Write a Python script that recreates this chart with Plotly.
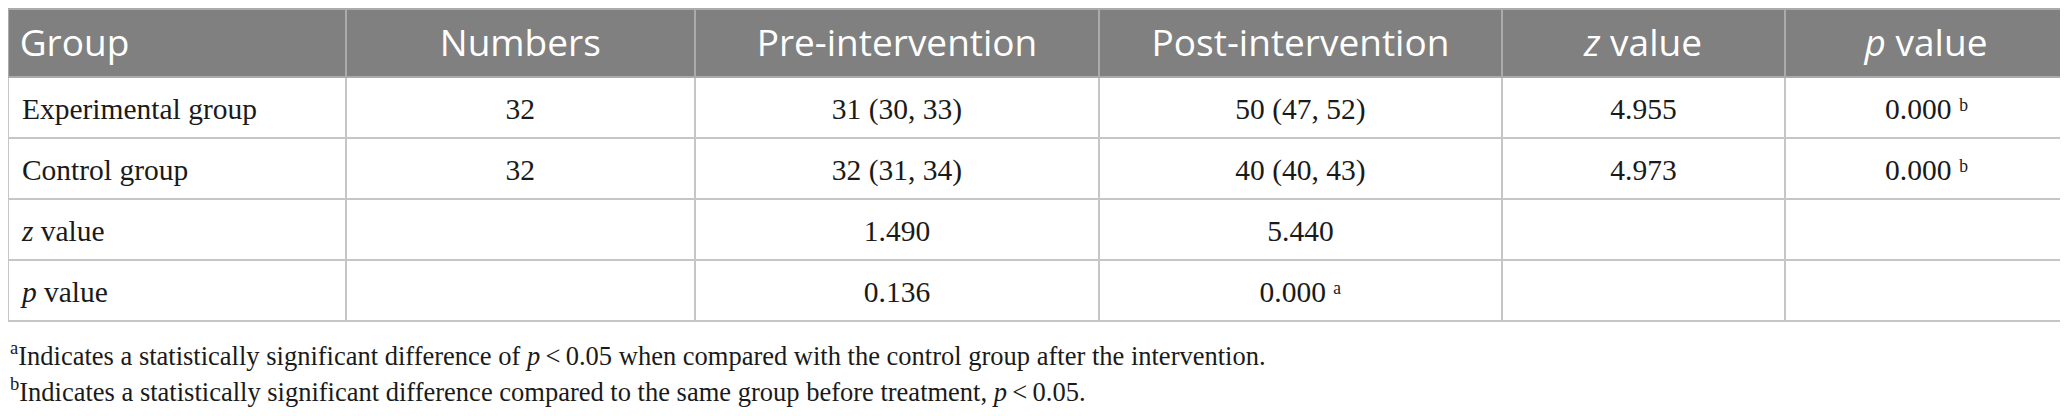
import plotly.graph_objects as go

# Table content
headers = ["Group", "Numbers", "Pre-intervention", "Post-intervention",
           "<i>z</i> value", "<i>p</i> value"]
groups = ["Experimental group", "Control group", "<i>z</i> value", "<i>p</i> value"]
numbers = ["32", "32", "", ""]
pre = ["31 (30, 33)", "32 (31, 34)", "1.490", "0.136"]
post = ["50 (47, 52)", "40 (40, 43)", "5.440", "0.000 \u1d43"]
z_vals = ["4.955", "4.973", "", ""]
p_vals = ["0.000 \u1d47", "0.000 \u1d47", "", ""]

footnotes = [
    "<sup>a</sup>Indicates a statistically significant difference of <i>p</i>\u2009&lt;\u20090.05 "
    "when compared with the control group after the intervention.",
    "<sup>b</sup>Indicates a statistically significant difference compared to the same group "
    "before treatment, <i>p</i>\u2009&lt;\u20090.05.",
]

W, H = 2068, 416
OFF = 8          # the html page puts an 8px body margin around the figure
TOP = 1          # table top inside the figure (px)
HEAD_H = 68      # header row height
ROW_H = 61       # body row height
col_w = [337.6, 349.4, 404, 403, 283, 283]
align = ["left", "center", "center", "center", "center", "center"]
x_dom = [0, (W - OFF) / W]

columns = [groups, numbers, pre, post, z_vals, p_vals]


def span(t):
    # wrap every entry so all cells are laid out the same way
    return "<span>" + t + "</span>"


head_txt = [span(("\u200a" if i == 0 else "") + h) for i, h in enumerate(headers)]
cell_txt = [[span(("\u2009" if j == 0 else "") + t) for t in col]
            for j, col in enumerate(columns)]

fig = go.Figure()

# grid: fills and rules
fig.add_trace(go.Table(
    columnwidth=col_w,
    header=dict(
        values=["" for _ in headers],
        fill_color="#808080",
        line=dict(color="#ababab", width=2),
        height=HEAD_H,
    ),
    cells=dict(
        values=[["" for _ in col] for col in columns],
        fill_color="white",
        line=dict(color="#c6c6c6", width=2),
        height=ROW_H,
    ),
    domain=dict(x=x_dom, y=[0, 1 - TOP / H]),
))

# text layer, nudged so the labels sit centred in their rows
HEAD_SHIFT = -1
BODY_SHIFT = 8
fig.add_trace(go.Table(
    columnwidth=col_w,
    header=dict(
        values=head_txt,
        align=align,
        fill_color="rgba(0,0,0,0)",
        line=dict(color="rgba(0,0,0,0)", width=0),
        font=dict(family="Open Sans", size=37, color="white"),
        height=HEAD_H + BODY_SHIFT - HEAD_SHIFT,
    ),
    cells=dict(
        values=cell_txt,
        align=align,
        fill_color="rgba(0,0,0,0)",
        line=dict(color="rgba(0,0,0,0)", width=0),
        font=dict(family="Liberation Serif", size=29.5, color="#1a1a1a"),
        height=ROW_H,
    ),
    domain=dict(x=x_dom, y=[0, 1 - (TOP + HEAD_SHIFT) / H]),
))

for i, note in enumerate(footnotes):
    fig.add_annotation(
        text=note, xref="paper", yref="paper",
        x=0, y=1 - (354 - OFF + 35.5 * i) / H, xanchor="left", yanchor="middle",
        showarrow=False,
        font=dict(family="Liberation Serif", size=26.5, color="#1a1a1a"),
    )

fig.update_layout(
    width=W, height=H,
    margin=dict(l=0, r=0, t=0, b=0),
    paper_bgcolor="white",
    plot_bgcolor="white",
)

fig.write_html("out.html")
